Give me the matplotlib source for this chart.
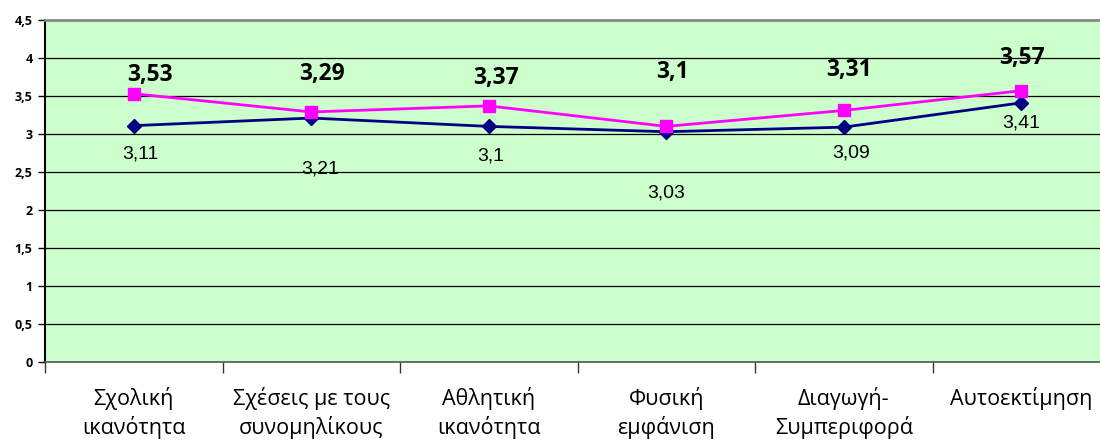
import numpy as np
import matplotlib
matplotlib.use("Agg")
import matplotlib.pyplot as plt
from matplotlib.ticker import FuncFormatter

# Data
categories = ["Σχολική\nικανότητα", "Σχέσεις με τους\nσυνομηλίκους", "Αθλητική\nικανότητα",
              "Φυσική\nεμφάνιση", "Διαγωγή-\nΣυμπεριφορά", "Αυτοεκτίμηση"]
series_blue = [3.11, 3.21, 3.10, 3.03, 3.09, 3.41]
series_pink = [3.53, 3.29, 3.37, 3.10, 3.31, 3.57]

# label offsets in pixels (as placed in the original)
blue_off = [(7, -28), (9, -51), (2, -30), (0, -61), (7, -26), (0, -20)]
pink_off = [(16, 19), (11, 38), (7, 28), (6, 54), (5, 40), (1, 33)]

fig = plt.figure(figsize=(11, 4.4), dpi=100)
ax = fig.add_axes([45 / 1100, 1 - 362 / 440, 1065 / 1100, 342 / 440])
ax.set_facecolor("#CCFFCC")

x = np.arange(len(categories))
ax.plot(x, series_blue, color="#000080", lw=2, marker="D", ms=7, zorder=3)
ax.plot(x, series_pink, color="#FF00FF", lw=2, marker="s", ms=9, zorder=4)

fmt = lambda v: ("%g" % v).replace(".", ",")
for i in range(len(x)):
    ax.annotate(fmt(series_blue[i]), (x[i], series_blue[i]), xytext=blue_off[i],
                textcoords="offset pixels", ha="center", va="center",
                fontsize=14, family="Liberation Sans", color="black")
    ax.annotate(fmt(series_pink[i]), (x[i], series_pink[i]), xytext=pink_off[i],
                textcoords="offset pixels", ha="center", va="center",
                fontsize=16.5, family="Open Sans", weight="bold", color="black")

ax.set_xlim(-0.5, 5.5)
ax.set_ylim(0, 4.5)
ax.set_yticks(np.arange(0, 4.51, 0.5))
ax.yaxis.set_major_formatter(FuncFormatter(lambda v, p: fmt(v)))
ax.grid(axis="y", color="black", lw=0.9)
ax.set_axisbelow(True)

ax.set_xticks(np.arange(-0.5, 5.6, 1))
ax.set_xticklabels([])
ax.set_xticks(x, minor=True)
ax.set_xticklabels(categories, minor=True, fontsize=15.5, family="Open Sans",
                   linespacing=1.35, va="top")
ax.tick_params(axis="x", which="major", length=8, width=1, color="#333333", direction="out")
ax.tick_params(axis="x", which="minor", length=0, pad=18)
ax.tick_params(axis="y", length=5, width=1, direction="out", labelsize=9, pad=4)
for lab in ax.get_yticklabels():
    lab.set_fontweight("bold")
    lab.set_family("Open Sans")

ax.spines["left"].set_color("black")
ax.spines["left"].set_linewidth(1.5)
ax.spines["bottom"].set_color("#555555")
ax.spines["bottom"].set_linewidth(1.2)
ax.spines["top"].set_color("#888888")
ax.spines["top"].set_linewidth(2)
ax.spines["right"].set_visible(False)

fig.savefig("out.png", dpi=100)
